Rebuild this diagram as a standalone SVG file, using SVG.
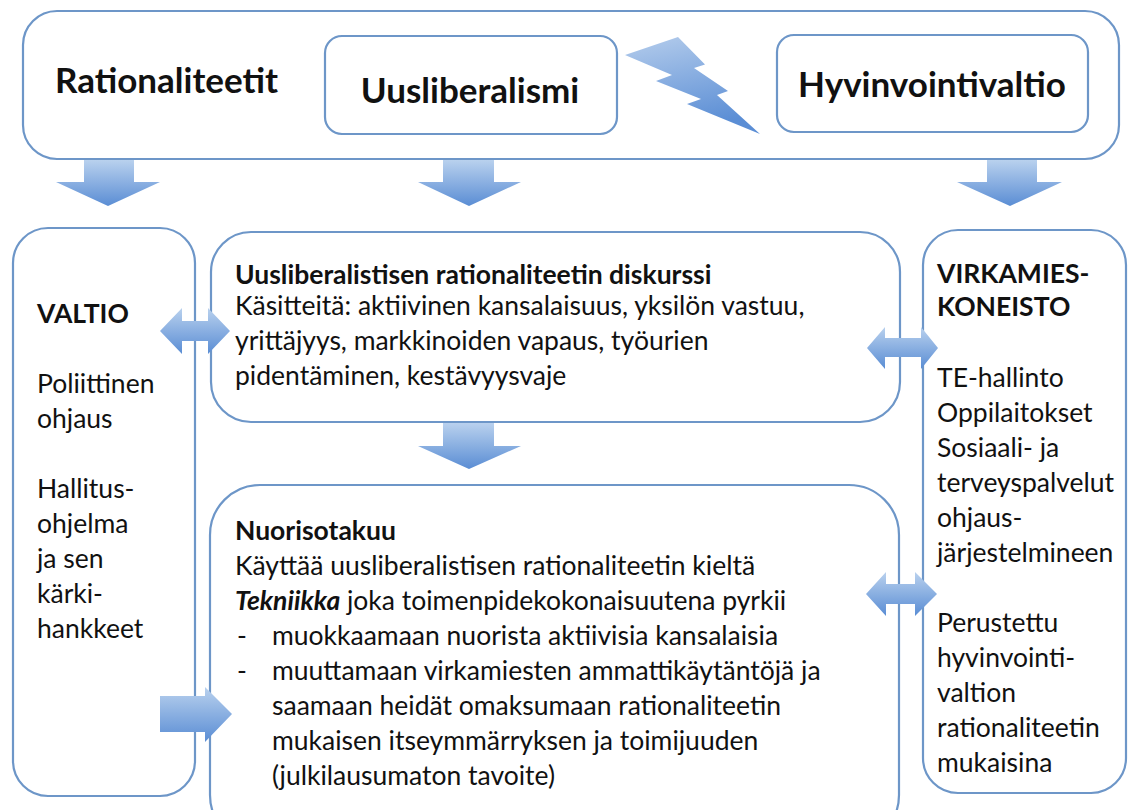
<svg xmlns="http://www.w3.org/2000/svg" width="1139" height="810" viewBox="0 0 1139 810">
<defs>
<linearGradient id="gv" x1="0" y1="0" x2="0" y2="1"><stop offset="0" stop-color="#b9d1ee"/><stop offset="1" stop-color="#5a8dd4"/></linearGradient>
<linearGradient id="gb" x1="0" y1="0" x2="0.3" y2="1"><stop offset="0" stop-color="#b5cdec"/><stop offset="1" stop-color="#5b8ed5"/></linearGradient>
<style>
.box{fill:#fff;stroke:#6d96c8;stroke-width:2.2}
.arr{fill:url(#gv);stroke:none}
text{font-family:Lato,"Liberation Sans",sans-serif;fill:#111}
.t{font-size:26.5px}
.b{font-weight:bold}
.h{font-size:35px;font-weight:bold}
</style>
</defs>
<rect width="1139" height="810" fill="#fff"/>
<g id="rationaliteetit">
<rect class="box" x="23" y="11" width="1096" height="148" rx="34"/>
<text class="h" x="55" y="93">Rationaliteetit</text>
</g>
<g id="uusliberalismi">
<rect class="box" x="325" y="36" width="292" height="98" rx="17"/>
<text class="h" x="470" y="103" text-anchor="middle">Uusliberalismi</text>
</g>
<g id="hyvinvointivaltio">
<rect class="box" x="777" y="35" width="311" height="97" rx="17"/>
<text class="h" x="932" y="97" text-anchor="middle">Hyvinvointivaltio</text>
</g>
<g id="valtio">
<rect class="box" x="13" y="228" width="182" height="568" rx="35"/>
<text class="t b" x="37" y="323">VALTIO</text>
<text class="t" x="37" y="393">Poliittinen</text>
<text class="t" x="37" y="428">ohjaus</text>
<text class="t" x="37" y="498">Hallitus-</text>
<text class="t" x="37" y="533">ohjelma</text>
<text class="t" x="37" y="568">ja sen</text>
<text class="t" x="37" y="603">kärki-</text>
<text class="t" x="37" y="638">hankkeet</text>
</g>
<g id="diskurssi">
<rect class="box" x="211" y="232" width="689" height="190" rx="40"/>
<text class="t b" x="235" y="284">Uusliberalistisen rationaliteetin diskurssi</text>
<text class="t" x="235" y="315">Käsitteitä: aktiivinen kansalaisuus, yksilön vastuu,</text>
<text class="t" x="235" y="350">yrittäjyys, markkinoiden vapaus, työurien</text>
<text class="t" x="235" y="385">pidentäminen, kestävyysvaje</text>
</g>
<g id="nuorisotakuu">
<rect class="box" x="210" y="485" width="689" height="360" rx="50"/>
<text class="t b" x="235" y="540">Nuorisotakuu</text>
<text class="t" x="235" y="575">Käyttää uusliberalistisen rationaliteetin kieltä</text>
<text class="t" x="235" y="610"><tspan font-weight="bold" font-style="italic">Tekniikka</tspan> joka toimenpidekokonaisuutena pyrkii</text>
<text class="t" x="237" y="645">-</text>
<text class="t" x="272" y="645">muokkaamaan nuorista aktiivisia kansalaisia</text>
<text class="t" x="237" y="680">-</text>
<text class="t" x="272" y="680">muuttamaan virkamiesten ammattikäytäntöjä ja</text>
<text class="t" x="272" y="715">saamaan heidät omaksumaan rationaliteetin</text>
<text class="t" x="272" y="750">mukaisen itseymmärryksen ja toimijuuden</text>
<text class="t" x="272" y="785">(julkilausumaton tavoite)</text>
</g>
<g id="virkamieskoneisto">
<rect class="box" x="923" y="230" width="203" height="563" rx="35"/>
<text class="t b" x="937" y="283">VIRKAMIES-</text>
<text class="t b" x="937" y="316">KONEISTO</text>
<text class="t" x="937" y="387">TE-hallinto</text>
<text class="t" x="937" y="422">Oppilaitokset</text>
<text class="t" x="937" y="457">Sosiaali- ja</text>
<text class="t" x="937" y="492">terveyspalvelut</text>
<text class="t" x="937" y="527">ohjaus-</text>
<text class="t" x="937" y="562">järjestelmineen</text>
<text class="t" x="937" y="632">Perustettu</text>
<text class="t" x="937" y="667">hyvinvointi-</text>
<text class="t" x="937" y="702">valtion</text>
<text class="t" x="937" y="737">rationaliteetin</text>
<text class="t" x="937" y="772">mukaisina</text>
</g>
<g id="connectors">
<path id="bolt" fill="url(#gb)" d="M678,37 L625,55 L672,75 L656,81 L701,99 L687,104 L760,134 L717,95 L728,91 L694,68 L705,64.5 Z"/>
<path class="arr" d="M84,160 L134,160 L134,182 L160,182 L108,206 L56,182 L84,182 Z"/>
<path class="arr" d="M443,160 L494,160 L494,182 L521,182 L469,206 L418,182 L443,182 Z"/>
<path class="arr" d="M987,160 L1037,160 L1037,182 L1062,182 L1010,206 L957,182 L987,182 Z"/>
<path class="arr" d="M443,423 L494,423 L494,446 L521,446 L469,469 L418,446 L443,446 Z"/>
<path class="arr" d="M160,331 L182,308 L182,321 L208,321 L208,308 L230,331 L208,354 L208,341 L182,341 L182,354 Z"/>
<path class="arr" d="M867,348 L885,327 L885,338 L921,338 L921,327 L938,348 L921,369 L921,357 L885,357 L885,369 Z"/>
<path class="arr" d="M866,594 L886,572 L886,584 L915,584 L915,572 L937,594 L915,616 L915,604 L886,604 L886,616 Z"/>
<path class="arr" d="M160,696 L205,696 L205,687 L232,714 L205,742 L205,732 L160,732 Z"/>
</g>
</svg>
